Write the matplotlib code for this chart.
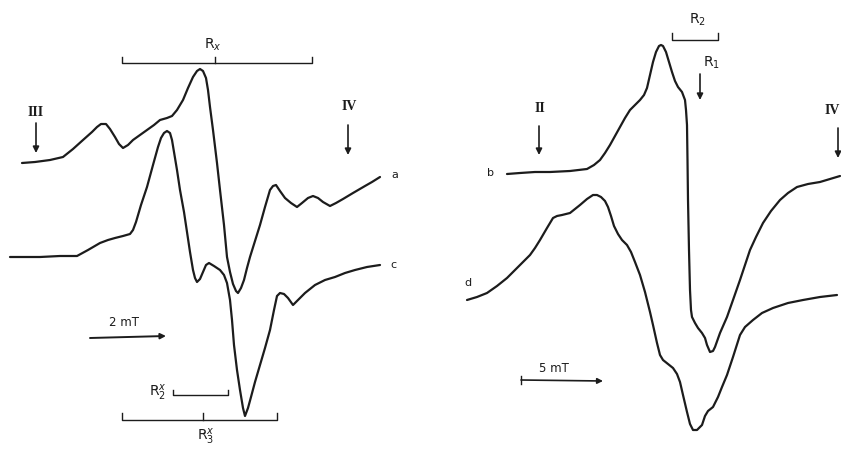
import numpy as np
import matplotlib
matplotlib.use("Agg")
import matplotlib.pyplot as plt

# traced spectra (horizontal = field position, vertical = signal, in figure units)
a_x = [22, 35, 50, 63, 73, 83, 92, 97, 101, 106, 110, 115, 119, 123, 128, 133, 140, 147, 154,
       160, 167, 172, 177, 183, 188, 193, 197, 200, 203, 206, 208, 210, 213, 217, 220, 224, 227,
       230, 233, 236, 238, 241, 244, 247, 250, 255, 260, 265, 270, 273, 276, 280, 285, 291, 297,
       302, 308, 313, 318, 323, 330, 336, 343, 353, 365, 372, 380]
a_y = [163, 162, 160, 157, 149, 140, 132, 127, 124, 124, 129, 137, 144, 148, 145, 140, 135, 130, 125,
       120, 118, 116, 110, 100, 88, 77, 71, 69, 71, 78, 90, 107, 130, 163, 190, 225, 257,
       272, 284, 291, 293, 288, 280, 268, 257, 241, 225, 207, 190, 186, 185, 191, 198, 203, 207,
       203, 198, 196, 198, 202, 206, 203, 199, 193, 186, 182, 177]

c_x = [10, 25, 40, 60, 77, 88, 100, 108, 115, 123, 130, 133, 136, 141, 147, 153, 158, 161, 164,
       167, 170, 172, 174, 177, 180, 184, 187, 190, 193, 195, 197, 200, 203, 206, 209, 214, 220,
       224, 227, 230, 232, 234, 237, 240, 243, 245, 248, 251, 255, 260, 265, 270, 274, 277, 280,
       284, 288, 293, 298, 305, 315, 325, 335, 345, 355, 367, 380]
c_y = [257, 257, 257, 256, 256, 250, 243, 240, 238, 236, 234, 230, 222, 205, 187, 165, 147, 138, 133,
       131, 133, 140, 152, 170, 190, 212, 232, 252, 270, 278, 282, 279, 272, 265, 263, 266, 270,
       275, 283, 300, 320, 345, 370, 390, 408, 416, 408, 397, 382, 365, 348, 330, 310, 296, 293,
       294, 298, 305, 300, 293, 285, 280, 277, 273, 270, 267, 265]

b_x = [507, 520, 535, 550, 570, 587, 594, 600, 605, 610, 615, 620, 625, 630, 635, 640, 644, 647,
       650, 653, 656, 659, 661, 663, 666, 669, 672, 675, 678, 682, 685, 686, 687, 687.5, 688, 689,
       690, 691, 692, 695, 698, 702, 705, 707, 710, 713, 715, 720, 727, 733, 740, 745, 750, 756,
       763, 771, 780, 788, 797, 808, 820, 830, 840]
b_y = [174, 173, 172, 172, 171, 169, 165, 160, 153, 145, 136, 127, 118, 110, 105, 100, 95, 88,
       75, 62, 52, 46, 45, 46, 52, 62, 72, 81, 87, 92, 100, 110, 125, 160, 200, 250,
       290, 310, 317, 323, 328, 333, 338, 345, 352, 351, 347, 333, 317, 300, 280, 265, 250, 237,
       223, 211, 200, 193, 187, 184, 182, 179, 176]

d_x = [467, 477, 487, 497, 507, 518, 530, 535, 540, 547, 553, 557, 562, 570, 575, 580, 587, 593,
       597, 601, 605, 608, 611, 614, 618, 622, 627, 631, 635, 640, 645, 650, 653, 657, 660, 663,
       668, 673, 677, 680, 683, 687, 690, 693, 697, 702, 705, 708, 713, 718, 722, 727, 733, 740,
       745, 753, 762, 773, 788, 803, 820, 837]
d_y = [300, 297, 293, 286, 278, 267, 255, 248, 240, 228, 218, 216, 215, 213, 209, 205, 199, 195,
       195, 197, 201, 207, 216, 226, 234, 240, 245, 252, 262, 275, 292, 312, 325, 343, 355, 360,
       364, 368, 374, 382, 395, 412, 424, 430, 430, 425, 416, 411, 407, 397, 387, 375, 357, 335,
       327, 320, 313, 308, 303, 300, 297, 295]

ink = "#1c1c1c"

fig = plt.figure(figsize=(8.41, 4.49), dpi=100)
ax = fig.add_axes([0, 0, 1, 1])
ax.set_xlim(0, 841)
ax.set_ylim(449, 0)
ax.axis("off")

for xs, ys in [(a_x, a_y), (c_x, c_y), (b_x, b_y), (d_x, d_y)]:
    ax.plot(xs, ys, color=ink, lw=1.6, solid_joinstyle="round", solid_capstyle="round")

# trace labels
ax.text(395, 175, "a", fontsize=8, ha="center", va="center", color=ink)
ax.text(393, 265, "c", fontsize=8, ha="center", va="center", color=ink)
ax.text(491, 173, "b", fontsize=8, ha="center", va="center", color=ink)
ax.text(468, 283, "d", fontsize=8, ha="center", va="center", color=ink)


def bracket(x0, x1, y, h, mid=None):
    ax.plot([x0, x0, x1, x1], [y - h, y, y, y - h], color=ink, lw=1.0)
    if mid is not None:
        ax.plot([mid, mid], [y, y - h], color=ink, lw=1.0)


def arrow(x0, y0, x1, y1, lw=1.2, ms=9):
    ax.annotate("", xy=(x1, y1), xytext=(x0, y0),
                arrowprops=dict(arrowstyle="-|>", color=ink, lw=lw,
                                mutation_scale=ms, shrinkA=0, shrinkB=0))


# left panel annotations
bracket(122, 312, 63, 6, mid=215)
ax.text(213, 45, r"$\mathrm{R}_{x}$", fontsize=10, ha="center", va="center", color=ink)
bracket(173, 228, 395, 5)
ax.text(158, 393, r"$\mathrm{R}_{2}^{x}$", fontsize=10, ha="center", va="center", color=ink)
bracket(122, 277, 420, 7, mid=203)
ax.text(206, 437, r"$\mathrm{R}_{3}^{x}$", fontsize=10, ha="center", va="center", color=ink)

ax.text(36, 112, "III", fontsize=10, family="Liberation Serif", weight="bold",
        ha="center", va="center", color=ink)
arrow(36, 123, 36, 153)
ax.text(349, 107, "IV", fontsize=10, family="Liberation Serif", weight="bold",
        ha="center", va="center", color=ink)
arrow(348, 125, 348, 155)

ax.text(124, 322, "2 mT", fontsize=8.5, ha="center", va="center", color=ink)
arrow(90, 338, 166, 336, lw=1.4, ms=8)

# right panel annotations
bracket(672, 718, 40, 7)
ax.text(697, 20, r"$\mathrm{R}_{2}$", fontsize=10, ha="center", va="center", color=ink)
ax.text(712, 63, r"$\mathrm{R}_{1}$", fontsize=10, ha="center", va="center", color=ink)
arrow(700, 74, 700, 100)

ax.text(540, 109, "II", fontsize=10, family="Liberation Serif", weight="bold",
        ha="center", va="center", color=ink)
arrow(539, 126, 539, 155)
ax.text(840, 110, "IV", fontsize=10, family="Liberation Serif", weight="bold",
        ha="right", va="center", color=ink)
arrow(838, 128, 838, 158)

ax.text(554, 368, "5 mT", fontsize=8.5, ha="center", va="center", color=ink)
arrow(521, 380, 603, 381, lw=1.2, ms=8)
ax.plot([521, 521], [376, 384], color=ink, lw=1.0)

fig.savefig("out.png", dpi=100)
